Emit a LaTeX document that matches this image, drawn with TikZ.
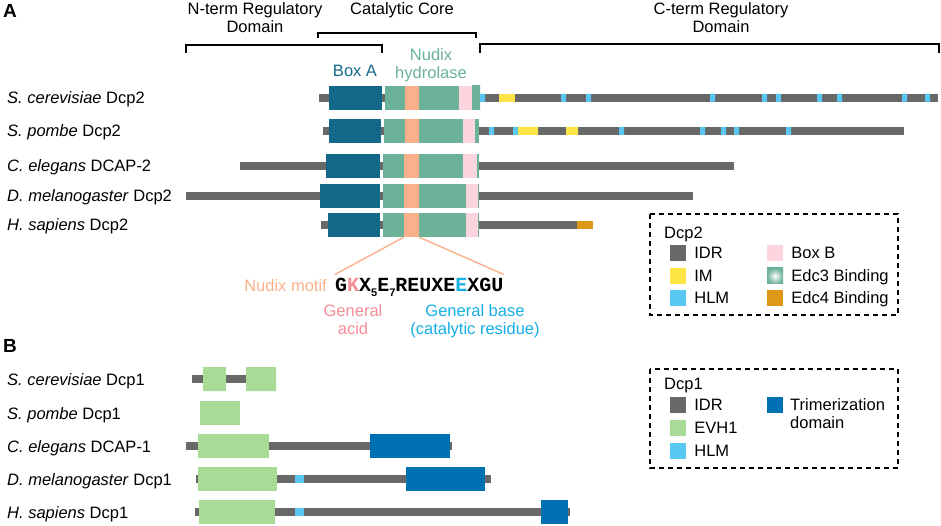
\documentclass[tikz,border=0pt]{standalone}
\usepackage{fontspec}
\setmainfont{Liberation Sans}
\setmonofont{Liberation Mono}
\usetikzlibrary{positioning}
\definecolor{idrgray}{RGB}{104,104,104}
\definecolor{boxacol}{RGB}{19,104,138}
\definecolor{nudixcol}{RGB}{108,178,152}
\definecolor{motifcol}{RGB}{251,176,140}
\definecolor{boxbcol}{RGB}{252,212,222}
\definecolor{imcol}{RGB}{255,228,70}
\definecolor{hlmcol}{RGB}{88,200,240}
\definecolor{edc4col}{RGB}{220,152,22}
\definecolor{evhcol}{RGB}{168,220,150}
\definecolor{trimercol}{RGB}{0,112,180}
\definecolor{acidcol}{RGB}{245,140,150}
\definecolor{basecol}{RGB}{20,175,230}
\newcommand\motifsub[1]{\raisebox{-5pt}{\fontsize{11}{11}\selectfont\rmfamily\bfseries #1}}

\begin{document}
\begin{tikzpicture}[x=1pt,y=-1pt,font=\fontsize{16.5}{18}\selectfont,
                    every node/.style={inner sep=0pt},node distance=8pt]
  \tikzstyle{species}=[anchor=base west]
  \tikzstyle{brace}=[draw=black,line width=1.4pt]
  \tikzstyle{legend}=[draw=black,line width=1.4pt,dash pattern=on 5pt off 4pt]
  \tikzstyle{key}=[minimum size=16pt]
  \tikzstyle{keytext}=[text height=11.8pt,text depth=0pt]
  \tikzstyle{idr}=[fill=idrgray]
  \tikzstyle{boxa}=[fill=boxacol]
  \tikzstyle{nudix}=[fill=nudixcol]
  \tikzstyle{motif}=[fill=motifcol]
  \tikzstyle{boxb}=[fill=boxbcol]
  \tikzstyle{im}=[fill=imcol]
  \tikzstyle{hlm}=[fill=hlmcol]
  \tikzstyle{evh}=[fill=evhcol]
  \tikzstyle{trimer}=[fill=trimercol]

  \useasboundingbox (0,0) rectangle (941,526);

  \node[anchor=base west,font=\fontsize{19}{19}\selectfont\bfseries] (A) at (3,18) {A};
  \node[anchor=base west,font=\fontsize{19}{19}\selectfont\bfseries] (B) at (3,352) {B};

  \node[align=center] (nterm) at (255,18) {N-term Regulatory\\Domain};
  \node[anchor=base] (core) at (402,15) {Catalytic Core};
  \node[align=center] (cterm) at (721,18) {C-term Regulatory\\Domain};
  \draw[brace] (186,53) -- (186,45) -- (382,45) -- (382,53);
  \draw[brace] (318,38) -- (318,33) -- (476,33) -- (476,38);
  \draw[brace] (480,53) -- (480,44) -- (939,44) -- (939,53);

  \node[anchor=base,text=boxacol] (boxalbl) at (355,77) {Box A};
  \node[align=center,text=nudixcol] (nudixlbl) at (431,65) {Nudix\\hydrolase};

  % Dcp2
  \node[species] (sc2) at (7,104) {\textit{S. cerevisiae} Dcp2};
  \fill[idr] (319,94) rectangle (938,102);
  \fill[boxa] (329,86) rectangle (382,110);
  \fill[nudix] (385,86) rectangle (472,110);
  \fill[motif] (405,86) rectangle (419,110);
  \fill[boxb] (459,86) rectangle (472,110);
  \shade[left color=nudixcol,middle color=white,right color=nudixcol] (472,86) rectangle (480,110);
  \fill[im] (499,94) rectangle (515,102);
  \fill[hlm] (480,94) rectangle +(5,8) (561,94) rectangle +(5,8) (586,94) rectangle +(5,8)
             (710,94) rectangle +(5,8) (762,94) rectangle +(5,8) (776,94) rectangle +(5,8)
             (817,94) rectangle +(5,8) (837,94) rectangle +(5,8) (902,94) rectangle +(5,8)
             (925,94) rectangle +(5,8);

  \node[species] (sp2) at (7,137) {\textit{S. pombe} Dcp2};
  \fill[idr] (323,127) rectangle (904,135);
  \fill[boxa] (329,119) rectangle (381,143);
  \fill[nudix] (384,119) rectangle (479,143);
  \fill[motif] (405,119) rectangle (419,143);
  \fill[boxb] (463,119) rectangle (475,143);
  \fill[im] (518,127) rectangle (538,135) (566,127) rectangle (578,135);
  \fill[hlm] (489,127) rectangle +(5,8) (513,127) rectangle +(5,8) (619,127) rectangle +(5,8)
             (700,127) rectangle +(5,8) (721,127) rectangle +(5,8) (734,127) rectangle +(5,8)
             (786,127) rectangle +(5,8);

  \node[species] (ce2) at (7,172) {\textit{C. elegans} DCAP-2};
  \fill[idr] (240,162) rectangle (734,170);
  \fill[boxa] (326,154) rectangle (380,178);
  \fill[nudix] (383,154) rectangle (479,178);
  \fill[motif] (404,154) rectangle (419,178);
  \fill[boxb] (463,154) rectangle (477,178);

  \node[species] (dm2) at (7,202) {\textit{D. melanogaster} Dcp2};
  \fill[idr] (186,192) rectangle (693,200);
  \fill[boxa] (320,184) rectangle (380,208);
  \fill[nudix] (383,184) rectangle (479,208);
  \fill[motif] (404,184) rectangle (419,208);
  \fill[boxb] (466,184) rectangle (478,208);

  \node[species] (hs2) at (7,231) {\textit{H. sapiens} Dcp2};
  \fill[idr] (321,221) rectangle (577,229);
  \fill[fill=edc4col] (577,221) rectangle (593,229);
  \fill[boxa] (328,213) rectangle (380,237);
  \fill[nudix] (383,213) rectangle (479,237);
  \node[motif,minimum width=15pt,minimum height=24pt] (hsmotif) at (411.5,225) {};
  \fill[boxb] (466,213) rectangle (478,237);

  % Nudix motif
  \node[anchor=base west,font=\fontsize{20}{20}\selectfont\ttfamily\bfseries,inner ysep=3pt] (seq) at (335,291)
       {G\textcolor{acidcol}{K}X\motifsub{5}E\motifsub{7}REUXE\textcolor{basecol}{E}XGU};
  \node[anchor=base east,text=motifcol] (nmotif) at (327,291) {Nudix motif};
  \draw[draw=motifcol,line width=1.4pt] (hsmotif.south west) -- (seq.north west);
  \draw[draw=motifcol,line width=1.4pt] (hsmotif.south east) -- (seq.north east);
  \node[align=center,text=acidcol] (acid) at (353,320) {General\\acid};
  \node[align=center,text=basecol] (base) at (475,321) {General base\\(catalytic residue)};

  % Dcp2 legend
  \draw[legend] (650,214) rectangle (898,315);
  \node[anchor=base west] (dcp2) at (664,239) {Dcp2};
  \node[key,idr] (k1) at (678,253) {};
  \node[keytext,right=of k1] {IDR};
  \node[key,im] (k2) at (678,276) {};
  \node[keytext,right=of k2] {IM};
  \node[key,hlm] (k3) at (678,298) {};
  \node[keytext,right=of k3] {HLM};
  \node[key,boxb] (k4) at (775,253) {};
  \node[keytext,right=of k4] {Box B};
  \node[key,inner color=white,outer color=nudixcol] (k5) at (775,276) {};
  \node[keytext,right=of k5] {Edc3 Binding};
  \node[key,fill=edc4col] (k6) at (775,298) {};
  \node[keytext,right=of k6] {Edc4 Binding};

  % Dcp1
  \node[species] (sc1) at (7,385) {\textit{S. cerevisiae} Dcp1};
  \fill[idr] (192,375) rectangle (276,383);
  \fill[evh] (203,367) rectangle (226,391) (246,367) rectangle (276,391);

  \node[species] (sp1) at (7,419) {\textit{S. pombe} Dcp1};
  \fill[evh] (200,401) rectangle (240,425);

  \node[species] (ce1) at (7,452) {\textit{C. elegans} DCAP-1};
  \fill[idr] (186,442) rectangle (452,450);
  \fill[evh] (198,434) rectangle (269,458);
  \fill[trimer] (370,434) rectangle (450,458);

  \node[species] (dm1) at (7,485) {\textit{D. melanogaster} Dcp1};
  \fill[idr] (196,475) rectangle (491,483);
  \fill[evh] (198,467) rectangle (277,491);
  \fill[hlm] (295,475) rectangle (304,483);
  \fill[trimer] (406,467) rectangle (485,491);

  \node[species] (hs1) at (7,518) {\textit{H. sapiens} Dcp1};
  \fill[idr] (195,508) rectangle (570,516);
  \fill[evh] (199,500) rectangle (275,524);
  \fill[hlm] (295,508) rectangle (304,516);
  \fill[trimer] (541,500) rectangle (568,524);

  % Dcp1 legend
  \draw[legend] (650,369) rectangle (898,468);
  \node[anchor=base west] (dcp1) at (664,389) {Dcp1};
  \node[key,idr] (k7) at (678,405) {};
  \node[keytext,right=of k7] {IDR};
  \node[key,evh] (k8) at (678,428) {};
  \node[keytext,right=of k8] {EVH1};
  \node[key,hlm] (k9) at (678,451) {};
  \node[keytext,right=of k9] {HLM};
  \node[key,trimer] (k10) at (775,405) {};
  \node[align=left,anchor=north west] (trimlbl) at (790,398) {Trimerization\\domain};
\end{tikzpicture}
\end{document}
